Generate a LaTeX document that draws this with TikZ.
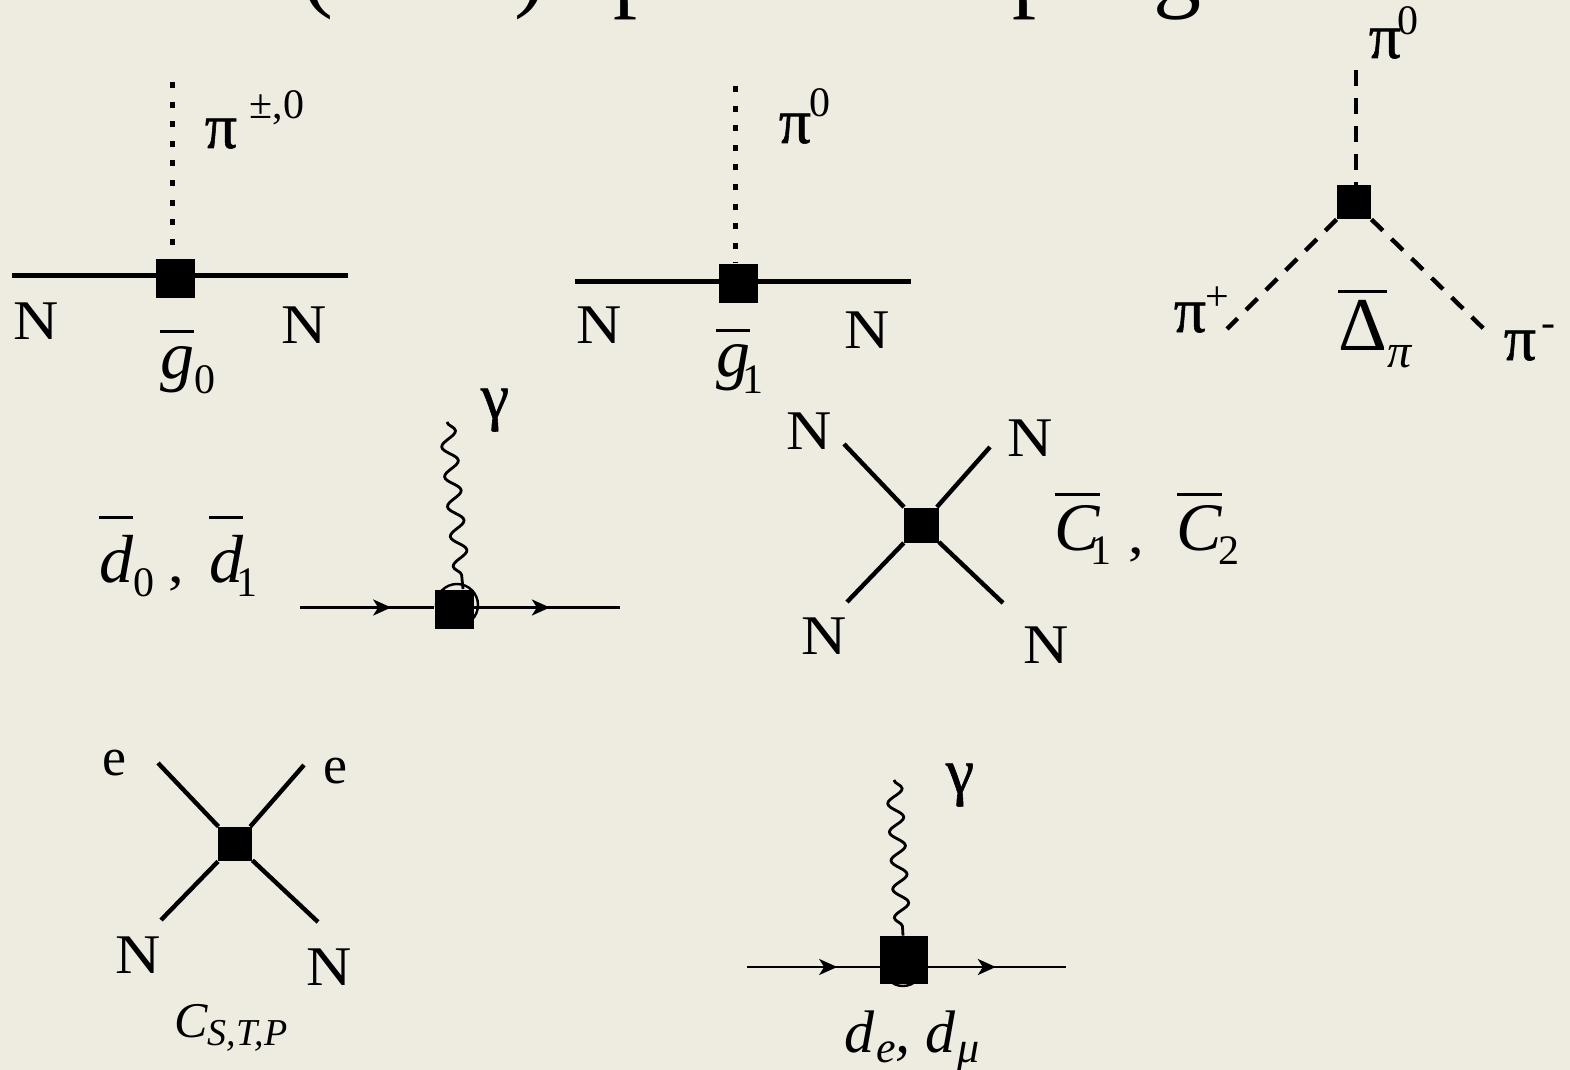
\documentclass[tikz,border=0pt]{standalone}
\usepackage{fontspec}
\setmainfont{Liberation Serif}
\newfontfamily\pifont[FakeBold=0.9]{Liberation Serif}
\newfontfamily\widefont[FakeStretch=1.12]{Liberation Serif}
\usetikzlibrary{decorations.pathmorphing, decorations.markings, arrows.meta}
\definecolor{slidebg}{RGB}{238,236,225}
\tikzset{
  vertex/.style={rectangle, fill=black, inner sep=0pt, minimum size=#1},
  lab/.style={inner sep=0pt, anchor=base, font=\fontsize{28}{30}\selectfont\widefont},
  pilab/.style={inner sep=0pt, anchor=base, font=\fontsize{32}{34}\selectfont\pifont},
  barlab/.style={inner sep=0pt, anchor=base west, font=\fontsize{34}{36}\selectfont},
  sublab/.style={inner sep=0pt, anchor=base, font=\fontsize{21}{23}\selectfont},
  titlefrag/.style={inner sep=0pt, anchor=base, font=\fontsize{48}{52}\selectfont},
  nucleon/.style={line width=2.2pt},
  leg/.style={line width=2.2pt},
  pionfour/.style={line width=2.5pt, dash pattern=on 3pt off 6.8pt},
  piondash/.style={line width=2.2pt, dash pattern=on 8pt off 6pt},
  photon/.style={line width=1.4pt, decorate, decoration={snake, segment length=#1, amplitude=3.8pt}},
  fermion/.style={line width=1.3pt, postaction={decorate}, decoration={markings,
    mark=at position #1 with {\arrow{Stealth[length=9pt,width=8pt,inset=2.5pt]}}}}
}
\newcommand{\barit}[2]{\vbox{\hrule height 1.3pt\kern #1\hbox{#2}}}
% barra, letra y subindice en un solo texto: hueco, letra, ajuste, bajada, subindice
\newcommand{\barsub}[5]{\barit{#1}{#2}\kern #3\lower #4\hbox{\fontsize{21}{23}\selectfont #5}}

\begin{document}
\begin{tikzpicture}[x=0.5pt, y=-0.5pt]
    \useasboundingbox (0,0) rectangle (1570,1070);
    \fill[slidebg] (0,0) rectangle (1570,1070);

    % Restos del titulo
    \foreach \x/\ch/\nm in {317/(/a, 530/)/b, 637/p/c, 1036/p/d, 1177/g/e} {
        \node[titlefrag] (title\nm) at (\x, 0) {\ch};
    }

    % 1. Vertice g0
    \node[vertex=19.5pt] (Asq) at (175, 278) {};
    \coordinate (Al) at (12, 275.5);
    \coordinate (Ar) at (348, 275.5);
    \coordinate (Atop) at (172, 82);
    \draw[nucleon] (Al) -- (Ar);
    \draw[pionfour] (Atop) -- (Atop |- Asq.north);
    \node[pilab] (Api) at (221, 148) {π};
    \node[sublab] (Aexp) at (277, 119) {±,0};
    \node[lab] (AN1) at (36, 339) {N};
    \node[lab] (AN2) at (304, 343) {N};
    \node[barlab] (Ag) at (160, 378) {\barsub{6.5pt}{\itshape g}{0pt}{7.5pt}{0}};

    % 2. Vertice g1
    \node[vertex=19.5pt] (Bsq) at (738, 283) {};
    \coordinate (Bl) at (575, 281.5);
    \coordinate (Br) at (911, 281.5);
    \coordinate (Btop) at (735, 86);
    \draw[nucleon] (Bl) -- (Br);
    \draw[pionfour] (Btop) -- (Btop |- Bsq.north);
    \node[pilab] (Bpi) at (795, 143) {π};
    \node[sublab] (Bexp) at (820, 117) {0};
    \node[lab] (BN1) at (599, 343) {N};
    \node[lab] (BN2) at (867, 348) {N};
    \node[barlab] (Bg) at (716, 376) {\barsub{6pt}{\itshape g}{-3.75pt}{8.5pt}{1}};

    % 3. Vertice de tres piones
    \node[vertex=17pt] (Csq) at (1354, 202) {};
    \coordinate (Ctop) at (1356, 70);
    \coordinate (Cl) at (1227, 329);
    \coordinate (Cr) at (1485, 330);
    \draw[piondash] (Ctop) -- (Ctop |- Csq.north);
    \draw[piondash] (Csq.south west) -- (Cl);
    \draw[piondash] (Csq.south east) -- (Cr);
    \node[pilab] (Cpi0) at (1385, 58) {π};
    \node[sublab] (Cz) at (1408, 35) {0};
    \node[pilab] (Cpip) at (1190, 332) {π};
    \node[sublab] (Cplus) at (1217, 310) {+};
    \node[pilab] (Cpim) at (1520, 360) {π};
    \node[sublab] (Cminus) at (1548, 336) {-};
    \node[barlab, font=\fontsize{38}{40}\selectfont] (Cdel) at (1338, 350)
        {\barit{3.5pt}{Δ}\lower 9pt\hbox{\fontsize{24}{26}\selectfont\itshape π}};

    % 4. Vertice d0, d1
    \node[barlab] (Dd0) at (99, 582) {\barsub{8pt}{\itshape d}{0pt}{7pt}{0}};
    \node[lab] (Dc) at (176, 582) {,};
    \node[barlab] (Dd1) at (209, 582) {\barsub{8pt}{\itshape d}{-3.25pt}{7pt}{1}};
    \coordinate (Dl) at (300, 607.5);
    \coordinate (Dr) at (620, 607.5);
    \coordinate (Dw) at (447, 422);
    \draw[line width=1.2pt] (457, 605) circle (10.5pt);
    \node[vertex=19.5pt] (Dsq) at (454, 609) {};
    \draw[fermion=0.68] (Dl) -- (Dsq.west |- Dl);
    \draw[fermion=0.52] (Dsq.east |- Dr) -- (Dr);
    \draw[photon=15pt] (Dw) -- ([xshift=8pt]Dw |- Dsq.north);
    \node[pilab] (Dgam) at (495, 418) {γ};

    % 5. Vertice C1, C2
    \node[vertex=17.5pt] (Esq) at (921, 525) {};
    \foreach \nm/\x/\y in {a/844/444, b/990/447, c/847/602, d/1003/603} {
        \coordinate (E\nm) at (\x, \y);
        \draw[leg] (E\nm) -- (Esq);
    }
    \node[lab] (EN1) at (809, 449) {N};
    \node[lab] (EN2) at (1030, 456) {N};
    \node[lab] (EN3) at (824, 654) {N};
    \node[lab] (EN4) at (1046, 663) {N};
    \node[barlab] (EC1) at (1054.5, 550) {\barsub{4.5pt}{\itshape C}{-5pt}{7pt}{1}};
    \node[lab] (Ec) at (1136, 553) {,};
    \node[barlab] (EC2) at (1176.5, 550) {\barsub{4.5pt}{\itshape C}{-2pt}{7pt}{2}};

    % 6. Vertice electron-nucleon
    \node[vertex=17pt] (Fsq) at (235, 844) {};
    \foreach \nm/\x/\y in {a/158/763, b/304/765, c/161/920, d/318/922} {
        \coordinate (F\nm) at (\x, \y);
        \draw[leg] (F\nm) -- (Fsq);
    }
    \node[lab, font=\fontsize{27}{29}\selectfont] (Fe1) at (114, 775) {e};
    \node[lab, font=\fontsize{27}{29}\selectfont] (Fe2) at (335, 783) {e};
    \node[lab] (FN1) at (138, 973) {N};
    \node[lab] (FN2) at (329, 985) {N};
    \node[lab, font=\fontsize{25}{27}\selectfont\itshape] (FC) at (231, 1037)
        {C\lower 4pt\hbox{\fontsize{19}{21}\selectfont S,T,P}};

    % 7. Vertice de, dmu
    \coordinate (Gl) at (747, 967);
    \coordinate (Gr) at (1066, 967);
    \coordinate (Gw) at (894, 780);
    \draw[line width=1.2pt] (903, 966) circle (10pt);
    \node[vertex=24pt] (Gsq) at (904, 960) {};
    \draw[fermion=0.68] (Gl) -- (Gsq.west |- Gl);
    \draw[fermion=0.49] (Gsq.east |- Gr) -- (Gr);
    \draw[photon=14.3pt] (Gw) -- ([xshift=4.5pt]Gw |- Gsq.north);
    \node[pilab] (Ggam) at (960, 793) {γ};
    \node[lab, font=\fontsize{30}{32}\selectfont\itshape] (Gd) at (912, 1052)
        {d\kern 1pt\lower 5pt\hbox{\fontsize{22}{24}\selectfont e}, d\kern 1pt\lower 5pt\hbox{\fontsize{22}{24}\selectfont μ}};
\end{tikzpicture}
\end{document}
